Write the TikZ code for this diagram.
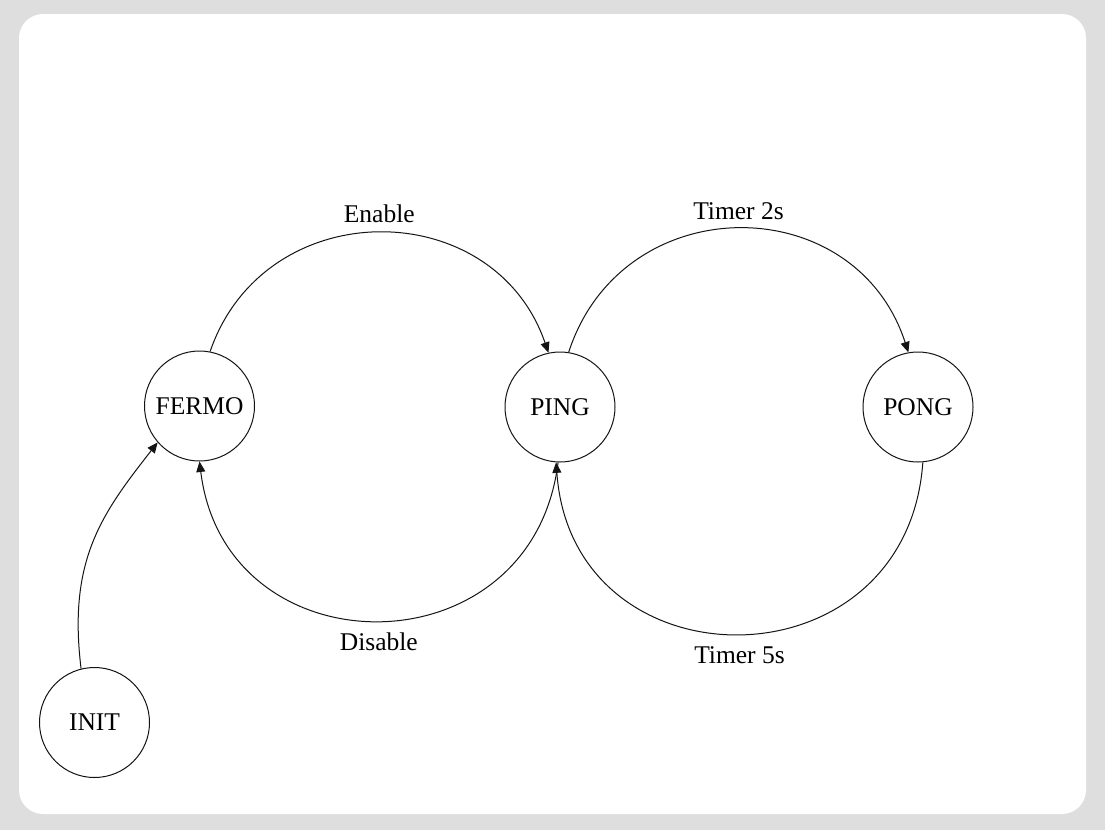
\documentclass[tikz,border=0pt]{standalone}
\usepackage{fontspec}
\setmainfont{Liberation Serif}
\usetikzlibrary{arrows.meta}
\definecolor{bgcol}{RGB}{222,222,222}
\definecolor{linecol}{RGB}{20,20,20}
\tikzset{
  state/.style={draw=linecol, line width=1pt, circle, minimum size=110pt, inner sep=0pt, fill=white, font=\fontsize{25.5}{30}\selectfont},
  arr/.style={draw=linecol, line width=1pt, -{Triangle[length=10.5pt,width=9pt]}},
  lbl/.style={font=\fontsize{25.5}{30}\selectfont, anchor=base, inner sep=0pt}
}
\begin{document}
\begin{tikzpicture}[x=1pt,y=1pt]
\fill[bgcol] (0,0) rectangle (1105,-830);
\fill[white, rounded corners=24pt] (19,-14) rectangle (1086,-814);
\useasboundingbox (0,0) rectangle (1105,-830);

\node[state] (FERMO) at (199.5,-406) {FERMO};
\node[state] (PING) at (560,-407) {PING};
\node[state] (PONG) at (918,-407) {PONG};
\node[state] (INIT) at (94.5,-722.5) {INIT};

\draw[arr] (FERMO.79) .. controls +(71:168) and +(109:168) .. (PING.102)
  node[lbl, midway, yshift=10.5pt] {Enable};
\draw[arr] (PING.81) .. controls +(72:173) and +(108:173) .. (PONG.100)
  node[lbl, midway, yshift=9.5pt] {Timer 2s};
\draw[arr] (PING.268) .. controls +(-97:213) and +(-83:213) .. (FERMO.270)
  node[lbl, midway, yshift=-29.5pt] {Disable};
\draw[arr] (PONG.275) .. controls +(-94:229) and +(-86:229) .. (PING.266)
  node[lbl, midway, yshift=-29.7pt] {Timer 5s};
\draw[arr] (INIT.104) .. controls +(97:110) and +(232:90) .. (FERMO.221);
\end{tikzpicture}
\end{document}
